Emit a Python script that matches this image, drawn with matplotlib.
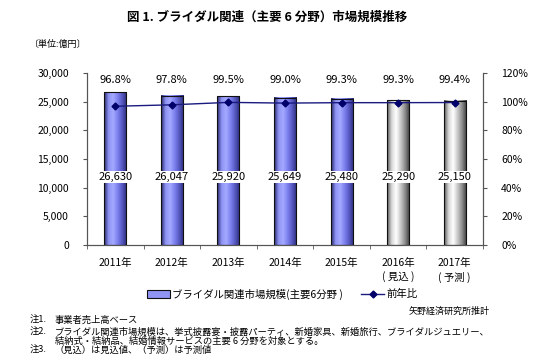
import numpy as np
import matplotlib.pyplot as plt
from matplotlib.colors import LinearSegmentedColormap
from matplotlib.patches import Rectangle
from matplotlib.lines import Line2D

plt.rcParams['font.family'] = ['Noto Sans CJK JP', 'DejaVu Sans']

years = ['2011年', '2012年', '2013年', '2014年', '2015年', '2016年', '2017年']
sub = ['', '', '', '', '', '( 見込 )', '( 予測 )']
market = [26630, 26047, 25920, 25649, 25480, 25290, 25150]
ratio = [96.8, 97.8, 99.5, 99.0, 99.3, 99.3, 99.4]
estimated = [False, False, False, False, False, True, True]

blue = LinearSegmentedColormap.from_list('b', ['#28286e', '#8f94f5', '#a4a9ff', '#7c80ee', '#5658c0', '#2c2c7a'])
grey = LinearSegmentedColormap.from_list('g', ['#5a5a5a', '#d8d8d8', '#ffffff', '#c8c8c8', '#8a8a8a', '#3a3a3a'])
grad = np.linspace(0, 1, 64).reshape(1, -1)

fig = plt.figure(figsize=(5.34, 3.63), dpi=100)
ax = fig.add_axes([87/534, 1-245/363, 396/534, 172/363])
ax2 = ax.twinx()

x = np.arange(len(years))
w = 0.39
for xi, v, est in zip(x, market, estimated):
    ax.imshow(grad, cmap=grey if est else blue, aspect='auto',
              extent=[xi - w/2, xi + w/2, 0, v], zorder=2)
    ax.add_patch(Rectangle((xi - w/2, 0), w, v, fill=False, ec='#101010', lw=0.8, zorder=3))
    ax.text(xi, 11900, f'{v:,}', ha='center', va='center', fontsize=8, zorder=5,
            bbox=dict(fc='white', ec='none', pad=0.6))

for xi, r in zip(x, ratio):
    ax.text(xi, 28750, f'{r:.1f}%', ha='center', va='center', fontsize=8)

ax2.plot(x, ratio, color='#1a1a80', lw=1.0, marker='D', ms=3.5, mfc='#00006a', mec='#00006a')

ax.set_xlim(-0.5, len(years) - 0.5)
ax.set_ylim(0, 30000)
ax.set_yticks(range(0, 30001, 5000))
ax.set_yticklabels([f'{t:,}' for t in range(0, 30001, 5000)], fontsize=7.5)
ax2.set_ylim(0, 120)
ax2.set_yticks(range(0, 121, 20))
ax2.set_yticklabels([f'{t}%' for t in range(0, 121, 20)], fontsize=7.5)

ax.set_xticks(x)
ax.set_xticklabels([y + ('\n' + s if s else '') for y, s in zip(years, sub)], fontsize=7.5, linespacing=1.45, va='top')
ax.set_xticks(np.arange(-0.5, len(years)), minor=True)
ax.tick_params(axis='x', which='major', length=0, pad=9)
ax.tick_params(axis='x', which='minor', length=3, color='#555555')
ax.tick_params(axis='y', length=3, color='#555555', pad=10)
ax2.tick_params(axis='y', length=3, color='#555555', pad=10)
for a in (ax, ax2):
    a.spines['top'].set_visible(False)
    for s in ('left', 'right', 'bottom'):
        a.spines[s].set_color('#555555')
        a.spines[s].set_linewidth(0.8)

fig.text(0.5, 1 - 17/363, '図 1. ブライダル関連（主要 6 分野）市場規模推移', ha='center', va='center',
         fontsize=9, fontweight='bold')
fig.text(30/534, 1 - 44/363, '〔単位:億円〕', ha='left', va='center', fontsize=6.5)

h1 = Rectangle((0, 0), 1, 1, fc='#8f94f5', ec='#101010', lw=0.8)
h2 = Line2D([], [], color='#1a1a80', lw=1.0, marker='D', ms=3.5, mfc='#00006a', mec='#00006a')
fig.legend([h1, h2], ['ブライダル関連市場規模(主要6分野 )', '前年比'], loc='center',
           bbox_to_anchor=(282/534, 1 - 294/363), ncol=2, frameon=False, fontsize=7.5,
           handlelength=2.2, handleheight=0.8, handletextpad=0.2, columnspacing=1.8)

fig.text(490/534, 1 - 311/363, '矢野経済研究所推計', ha='right', va='center', fontsize=6.5)
notes = [
    (320, '注1.', '事業者売上高ベース'),
    (332, '注2.', 'ブライダル関連市場規模は、挙式披露宴・披露パーティ、新婚家具、新婚旅行、ブライダルジュエリー、'),
    (341, '', '結納式・結納品、結婚情報サービスの主要 6 分野を対象とする。'),
    (350, '注3.', '（見込）は見込値、（予測）は予測値'),
]
for yy, head, body in notes:
    if head:
        fig.text(30/534, 1 - yy/363, head, ha='left', va='center', fontsize=6.7)
    fig.text(55/534, 1 - yy/363, body, ha='left', va='center', fontsize=6.7)

fig.savefig('out.png', dpi=100)
